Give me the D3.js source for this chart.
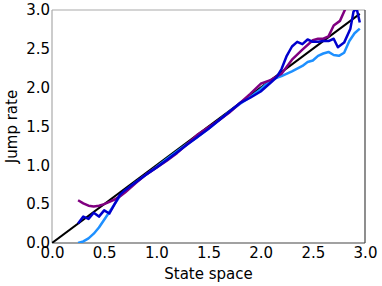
<!DOCTYPE html>
<html>
<head>
<meta charset="utf-8">
<script src="https://cdn.jsdelivr.net/npm/d3@7"></script>
<style>
  body { margin: 0; background: #fff; }
  text { font-family: "DejaVu Sans", sans-serif; }
</style>
</head>
<body>
<div id="chart-area"></div>
<script>
var ticks = [0, 0.5, 1.0, 1.5, 2.0, 2.5, 3.0];

var xIdent = [0, 2.95];
var yIdent = [0, 2.95];

var xDark = [0.25, 0.30, 0.35, 0.40, 0.45, 0.50, 0.55, 0.60, 0.65, 0.70, 0.80, 0.90, 1.00, 1.10, 1.20, 1.30, 1.40, 1.50, 1.60, 1.70, 1.80, 1.90, 2.00, 2.10, 2.15, 2.20, 2.25, 2.30, 2.35, 2.40, 2.45, 2.50, 2.55, 2.60, 2.65, 2.70, 2.74, 2.80, 2.86, 2.89, 2.92, 2.95];
var yDark = [0.25, 0.34, 0.31, 0.39, 0.34, 0.42, 0.38, 0.50, 0.62, 0.68, 0.78, 0.88, 0.97, 1.07, 1.17, 1.27, 1.37, 1.47, 1.58, 1.69, 1.80, 1.87, 1.95, 2.07, 2.13, 2.24, 2.41, 2.53, 2.59, 2.56, 2.62, 2.59, 2.59, 2.60, 2.60, 2.63, 2.52, 2.58, 2.76, 2.98, 3.02, 2.84];

var xLight = [0.25, 0.30, 0.35, 0.40, 0.45, 0.50, 0.55, 0.60, 0.65, 0.70, 0.80, 0.90, 1.00, 1.10, 1.20, 1.30, 1.40, 1.50, 1.60, 1.70, 1.80, 1.90, 2.00, 2.10, 2.20, 2.30, 2.40, 2.45, 2.50, 2.55, 2.60, 2.65, 2.70, 2.75, 2.80, 2.85, 2.90, 2.95];
var yLight = [0.00, 0.02, 0.06, 0.12, 0.20, 0.30, 0.40, 0.50, 0.60, 0.67, 0.78, 0.88, 0.98, 1.08, 1.18, 1.28, 1.37, 1.47, 1.58, 1.69, 1.79, 1.88, 1.98, 2.10, 2.15, 2.21, 2.28, 2.33, 2.35, 2.41, 2.44, 2.46, 2.42, 2.41, 2.45, 2.60, 2.70, 2.76];

var xPurple = [0.25, 0.30, 0.35, 0.40, 0.45, 0.50, 0.55, 0.60, 0.65, 0.70, 0.80, 0.90, 1.00, 1.10, 1.20, 1.30, 1.40, 1.50, 1.60, 1.70, 1.80, 1.90, 2.00, 2.10, 2.20, 2.30, 2.40, 2.50, 2.55, 2.60, 2.65, 2.70, 2.76, 2.81, 2.85];
var yPurple = [0.55, 0.51, 0.48, 0.47, 0.48, 0.50, 0.53, 0.56, 0.60, 0.65, 0.77, 0.88, 0.97, 1.06, 1.16, 1.28, 1.40, 1.49, 1.58, 1.68, 1.80, 1.92, 2.05, 2.10, 2.18, 2.36, 2.49, 2.61, 2.63, 2.63, 2.66, 2.80, 2.86, 3.01, 3.15];

var margin = {left:52, right:17, top:10, bottom:43};
var width = 382 - margin.left - margin.right,
	height = 286 - margin.top - margin.bottom;

var svg = d3.select("#chart-area")
	.append("svg")
		.attr("width", 382)
		.attr("height", 286);

var g = svg.append("g")
	.attr("transform", "translate(" + margin.left + "," + margin.top + ")");

var x = d3.scaleLinear().domain([0, 3]).range([0, width]);
var y = d3.scaleLinear().domain([0, 3]).range([height, 0]);

g.append("clipPath").attr("id", "clip")
	.append("rect").attr("width", width).attr("height", height);

var xAxis = g.append("g")
	.attr("transform", "translate(0," + height + ")")
	.call(d3.axisBottom(x).tickValues(ticks).tickFormat(d3.format(".1f")).tickSize(0).tickPadding(4));
xAxis.select(".domain").remove();
xAxis.selectAll("text").attr("font-size", 15).attr("fill", "#000").attr("font-family", "DejaVu Sans");

var yAxis = g.append("g")
	.call(d3.axisLeft(y).tickValues(ticks).tickFormat(d3.format(".1f")).tickSize(0).tickPadding(2));
yAxis.select(".domain").remove();
yAxis.selectAll("text").attr("font-size", 15).attr("fill", "#000").attr("font-family", "DejaVu Sans");

// spines: left/top light, bottom/right dark
g.append("line").attr("x1", 0).attr("x2", 0).attr("y1", 0).attr("y2", height).attr("stroke", "#aaa").attr("stroke-width", 1.2);
g.append("line").attr("x1", 0).attr("x2", width).attr("y1", 0).attr("y2", 0).attr("stroke", "#aaa").attr("stroke-width", 1.2);
g.append("line").attr("x1", 0).attr("x2", width).attr("y1", height).attr("y2", height).attr("stroke", "#444").attr("stroke-width", 1.2);
g.append("line").attr("x1", width).attr("x2", width).attr("y1", 0).attr("y2", height).attr("stroke", "#444").attr("stroke-width", 1.2);

var line = d3.line()
	.x(function(d){ return x(d[0]); })
	.y(function(d){ return y(d[1]); });

var lines = g.append("g").attr("clip-path", "url(#clip)");

function drawLine(xs, ys, color, w) {
	lines.append("path")
		.datum(d3.zip(xs, ys))
		.attr("d", line)
		.attr("fill", "none")
		.attr("stroke", color)
		.attr("stroke-width", w)
		.attr("stroke-linejoin", "round");
}

drawLine(xIdent, yIdent, "#000", 2);
drawLine(xLight, yLight, "#1e90ff", 2.5);
drawLine(xPurple, yPurple, "#800080", 2.5);
drawLine(xDark, yDark, "#0000cd", 2.5);

svg.append("text")
	.attr("x", margin.left + width / 2)
	.attr("y", 279)
	.attr("text-anchor", "middle")
	.attr("font-size", 15)
	.text("State space");

svg.append("text")
	.attr("transform", "translate(17," + (margin.top + height / 2) + ") rotate(-90)")
	.attr("text-anchor", "middle")
	.attr("font-size", 15)
	.text("Jump rate");
</script>
</body>
</html>
